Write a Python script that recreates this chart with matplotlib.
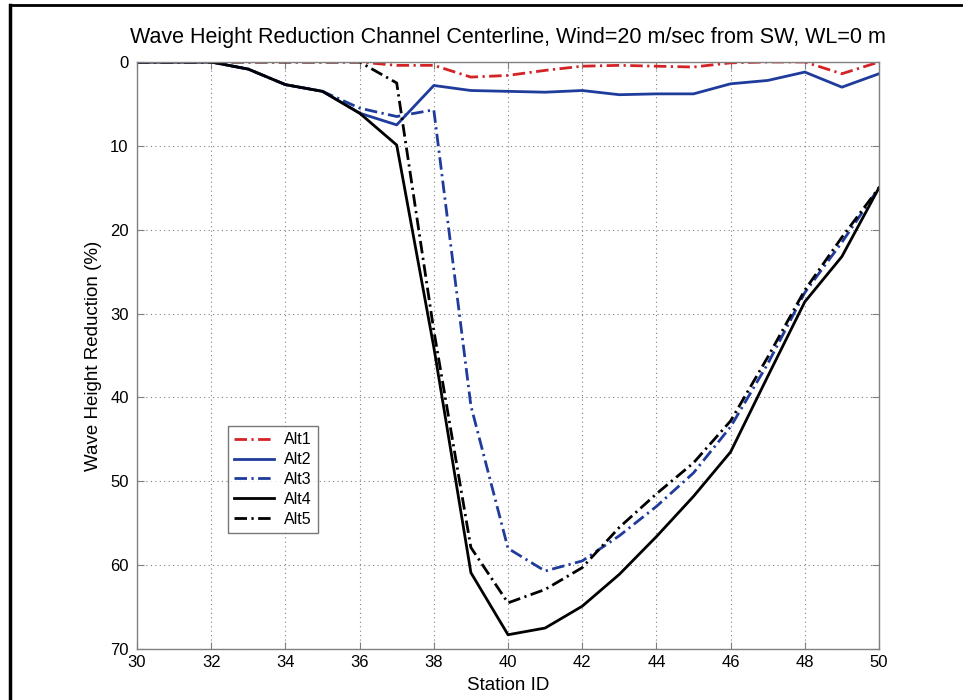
import matplotlib
matplotlib.use('Agg')
import matplotlib.pyplot as plt
from matplotlib.lines import Line2D

plt.rcParams['font.family'] = ['Liberation Sans', 'DejaVu Sans']

# Daten
station = [30, 31, 32, 33, 34, 35, 36, 37, 38, 39, 40, 41, 42, 43, 44, 45, 46, 47, 48, 49, 50]
alt1 = [0, 0, 0, 0, 0, 0, 0, 0.4, 0.4, 1.8, 1.6, 1.0, 0.5, 0.4, 0.5, 0.6, 0.1, 0, 0, 1.4, 0]
alt2 = [0, 0, 0, 0.85, 2.7, 3.5, 6.1, 7.5, 2.8, 3.4, 3.5, 3.6, 3.4, 3.9, 3.8, 3.8, 2.6, 2.2, 1.2, 3.0, 1.4]
alt3 = [0, 0, 0, 0.85, 2.7, 3.5, 5.5, 6.5, 5.7, 41, 58, 60.7, 59.5, 56.5, 53, 49, 43.5, 36, 27.5, 21.5, 15]
alt4 = [0, 0, 0, 0.85, 2.7, 3.5, 6.1, 9.9, 34, 60.9, 68.3, 67.5, 64.9, 61.1, 56.6, 51.8, 46.5, 37.5, 28.6, 23.2, 15]
alt5 = [0, 0, 0, 0, 0, 0, 0, 2.5, 32, 57.9, 64.5, 62.9, 60.3, 55.5, 51.5, 47.8, 42.8, 35.2, 27.2, 20.9, 15]
labels = ['Alt1', 'Alt2', 'Alt3', 'Alt4', 'Alt5']

red = '#d42326'
blue = '#1f3b9b'
dashdot = (0, (4.5, 1.6, 0.8, 1.6))

fig = plt.figure(figsize=(9.63, 7.0), dpi=100)
ax = fig.add_axes([137/963, 1 - 649/700, (879-137)/963, (649-62)/700])

lw = 2.0
ax.plot(station, alt1, color=red, lw=lw, linestyle=dashdot, label=labels[0])
ax.plot(station, alt2, color=blue, lw=lw, linestyle='-', label=labels[1])
ax.plot(station, alt3, color=blue, lw=lw, linestyle=dashdot, label=labels[2])
ax.plot(station, alt4, color='black', lw=lw, linestyle='-', label=labels[3])
ax.plot(station, alt5, color='black', lw=lw, linestyle=dashdot, label=labels[4])

ax.set_xlim(30, 50)
ax.set_ylim(70, 0)
ax.set_xticks(range(30, 51, 2))
ax.set_yticks(range(0, 71, 10))
ax.tick_params(direction='in', length=5, labelsize=12, colors='#808080',
               labelcolor='black', top=True, right=True)
ax.tick_params(axis='y', pad=6)
ax.tick_params(axis='x', pad=4)
for s in ax.spines.values():
    s.set_color('#808080')
    s.set_linewidth(1.0)
ax.grid(True, linestyle=(0, (1, 3)), color='#808080', linewidth=0.8)

ax.set_title('Wave Height Reduction Channel Centerline, Wind=20 m/sec from SW, WL=0 m',
             fontsize=15.5, pad=14)
ax.set_xlabel('Station ID', fontsize=13.5, labelpad=5)
ax.set_ylabel('Wave Height Reduction (%)', fontsize=13.5, labelpad=6)

leg = ax.legend(loc='lower left', bbox_to_anchor=(0.112, 0.184), fontsize=11.5,
                frameon=True, fancybox=False, handlelength=2.5, borderpad=0.4,
                labelspacing=0.3, handletextpad=0.6)
leg.get_frame().set_edgecolor('#555555')
leg.get_frame().set_linewidth(1.0)

# Rahmen um die Abbildung (oben und links sichtbar)
fig.add_artist(Line2D([10/963, 1.0], [1 - 5/700, 1 - 5/700], transform=fig.transFigure,
                      color='black', lw=2.0))
fig.add_artist(Line2D([10/963, 10/963], [0.0, 1 - 5/700], transform=fig.transFigure,
                      color='black', lw=2.5))

fig.savefig('out.png', dpi=100, facecolor='white')
